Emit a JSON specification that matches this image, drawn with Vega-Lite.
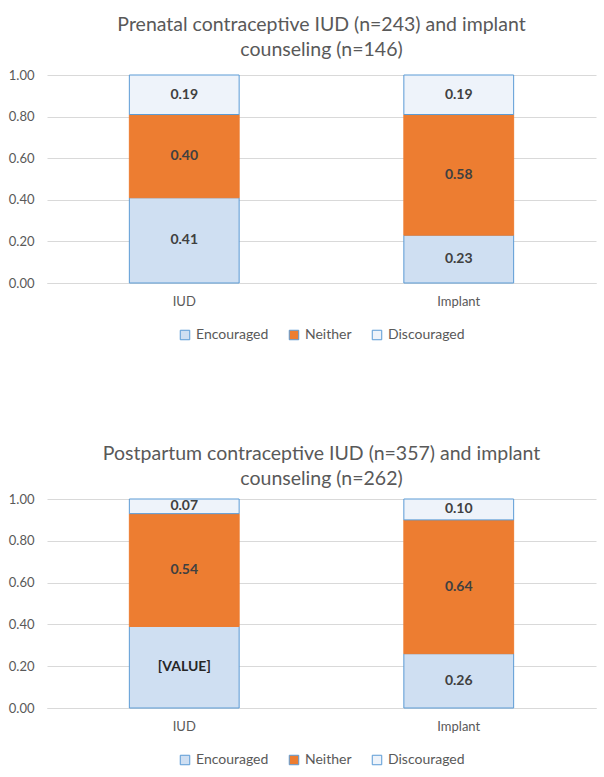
{
  "$schema": "https://vega.github.io/schema/vega-lite/v6.json",
  "padding": {"left": 8, "top": 14, "right": 7, "bottom": 5},
  "background": "white",
  "datasets": {
    "d": [
      {"period": "Prenatal", "method": "IUD", "response": "Encouraged", "k": 1, "value": 0.41, "label": "0.41"},
      {"period": "Prenatal", "method": "IUD", "response": "Neither", "k": 2, "value": 0.40, "label": "0.40"},
      {"period": "Prenatal", "method": "IUD", "response": "Discouraged", "k": 3, "value": 0.19, "label": "0.19"},
      {"period": "Prenatal", "method": "Implant", "response": "Encouraged", "k": 1, "value": 0.23, "label": "0.23"},
      {"period": "Prenatal", "method": "Implant", "response": "Neither", "k": 2, "value": 0.58, "label": "0.58"},
      {"period": "Prenatal", "method": "Implant", "response": "Discouraged", "k": 3, "value": 0.19, "label": "0.19"},
      {"period": "Postpartum", "method": "IUD", "response": "Encouraged", "k": 1, "value": 0.39, "label": "[VALUE]"},
      {"period": "Postpartum", "method": "IUD", "response": "Neither", "k": 2, "value": 0.54, "label": "0.54"},
      {"period": "Postpartum", "method": "IUD", "response": "Discouraged", "k": 3, "value": 0.07, "label": "0.07"},
      {"period": "Postpartum", "method": "Implant", "response": "Encouraged", "k": 1, "value": 0.26, "label": "0.26"},
      {"period": "Postpartum", "method": "Implant", "response": "Neither", "k": 2, "value": 0.64, "label": "0.64"},
      {"period": "Postpartum", "method": "Implant", "response": "Discouraged", "k": 3, "value": 0.10, "label": "0.10"}
    ]
  },
  "config": {
    "font": "Lato",
    "view": {"stroke": null},
    "title": {"fontSize": 19.5, "fontWeight": "normal", "color": "#595959", "lineHeight": 25, "anchor": "middle"},
    "axis": {"labelFontSize": 13, "labelColor": "#595959", "ticks": false, "title": null},
    "legend": {
      "labelFontSize": 14, "labelColor": "#595959", "symbolType": "square", "symbolSize": 90,
      "symbolStrokeWidth": 1, "columnPadding": 18, "labelOffset": 4,
      "layout": {"bottom": {"anchor": "middle"}}
    }
  },
  "spacing": 101,
  "resolve": {"legend": {"color": "independent"}},
  "vconcat": [
    {
      "title": {"text": ["Prenatal contraceptive IUD (n=243) and implant", "counseling (n=146)"], "offset": 9},
      "width": 549,
      "height": 208,
      "data": {"name": "d"},
      "transform": [
        {"filter": "datum.period === 'Prenatal'"},
        {"stack": "value", "groupby": ["period", "method"], "sort": [{"field": "k", "order": "ascending"}], "as": ["y0", "y1"]},
        {"calculate": "(datum.y0 + datum.y1) / 2", "as": "mid"}
      ],
      "encoding": {
        "x": {"field": "method", "type": "nominal", "sort": ["IUD", "Implant"],
              "scale": {"paddingInner": 0.6, "paddingOuter": 0.3},
              "axis": {"labelAngle": 0, "domainColor": "#d9d9d9", "labelPadding": 12, "grid": false}}
      },
      "layer": [
        {
          "mark": {"type": "bar", "strokeWidth": 1},
          "encoding": {
            "y": {"field": "y0", "type": "quantitative", "scale": {"domain": [0, 1]},
                  "axis": {"values": [0, 0.2, 0.4, 0.6, 0.8, 1], "format": ".2f", "domain": false, "gridColor": "#d9d9d9", "labelPadding": 13}},
            "y2": {"field": "y1"},
            "color": {"field": "response", "type": "nominal",
                      "scale": {"domain": ["Encouraged", "Neither", "Discouraged"], "range": ["#cfdff2", "#ed7d31", "#eef3fa"]},
                      "legend": {"orient": "bottom", "direction": "horizontal", "title": null, "offset": 20, "symbolStrokeColor": "#5b9bd5"}},
            "stroke": {"field": "response", "type": "nominal",
                       "scale": {"domain": ["Encouraged", "Neither", "Discouraged"], "range": ["#5b9bd5", "#ed7d31", "#5b9bd5"]},
                       "legend": null}
          }
        },
        {
          "mark": {"type": "text", "fontWeight": "bold", "fontSize": 14},
          "encoding": {
            "y": {"field": "mid", "type": "quantitative"},
            "text": {"field": "label", "type": "nominal"},
            "color": {"value": "#404040"}
          }
        }
      ]
    },
    {
      "title": {"text": ["Postpartum contraceptive IUD (n=357) and implant", "counseling (n=262)"], "offset": 4},
      "width": 549,
      "height": 209,
      "data": {"name": "d"},
      "transform": [
        {"filter": "datum.period === 'Postpartum'"},
        {"stack": "value", "groupby": ["period", "method"], "sort": [{"field": "k", "order": "ascending"}], "as": ["y0", "y1"]},
        {"calculate": "(datum.y0 + datum.y1) / 2", "as": "mid"}
      ],
      "encoding": {
        "x": {"field": "method", "type": "nominal", "sort": ["IUD", "Implant"],
              "scale": {"paddingInner": 0.6, "paddingOuter": 0.3},
              "axis": {"labelAngle": 0, "domainColor": "#d9d9d9", "labelPadding": 12, "grid": false}}
      },
      "layer": [
        {
          "mark": {"type": "bar", "strokeWidth": 1},
          "encoding": {
            "y": {"field": "y0", "type": "quantitative", "scale": {"domain": [0, 1]},
                  "axis": {"values": [0, 0.2, 0.4, 0.6, 0.8, 1], "format": ".2f", "domain": false, "gridColor": "#d9d9d9", "labelPadding": 13}},
            "y2": {"field": "y1"},
            "color": {"field": "response", "type": "nominal",
                      "scale": {"domain": ["Encouraged", "Neither", "Discouraged"], "range": ["#cfdff2", "#ed7d31", "#eef3fa"]},
                      "legend": {"orient": "bottom", "direction": "horizontal", "title": null, "offset": 20, "symbolStrokeColor": "#5b9bd5"}},
            "stroke": {"field": "response", "type": "nominal",
                       "scale": {"domain": ["Encouraged", "Neither", "Discouraged"], "range": ["#5b9bd5", "#ed7d31", "#5b9bd5"]},
                       "legend": null}
          }
        },
        {
          "mark": {"type": "text", "fontWeight": "bold", "fontSize": 14},
          "encoding": {
            "y": {"field": "mid", "type": "quantitative"},
            "text": {"field": "label", "type": "nominal"},
            "color": {"condition": {"test": "datum.label === '[VALUE]'", "value": "#262626"}, "value": "#404040"}
          }
        }
      ]
    }
  ]
}
